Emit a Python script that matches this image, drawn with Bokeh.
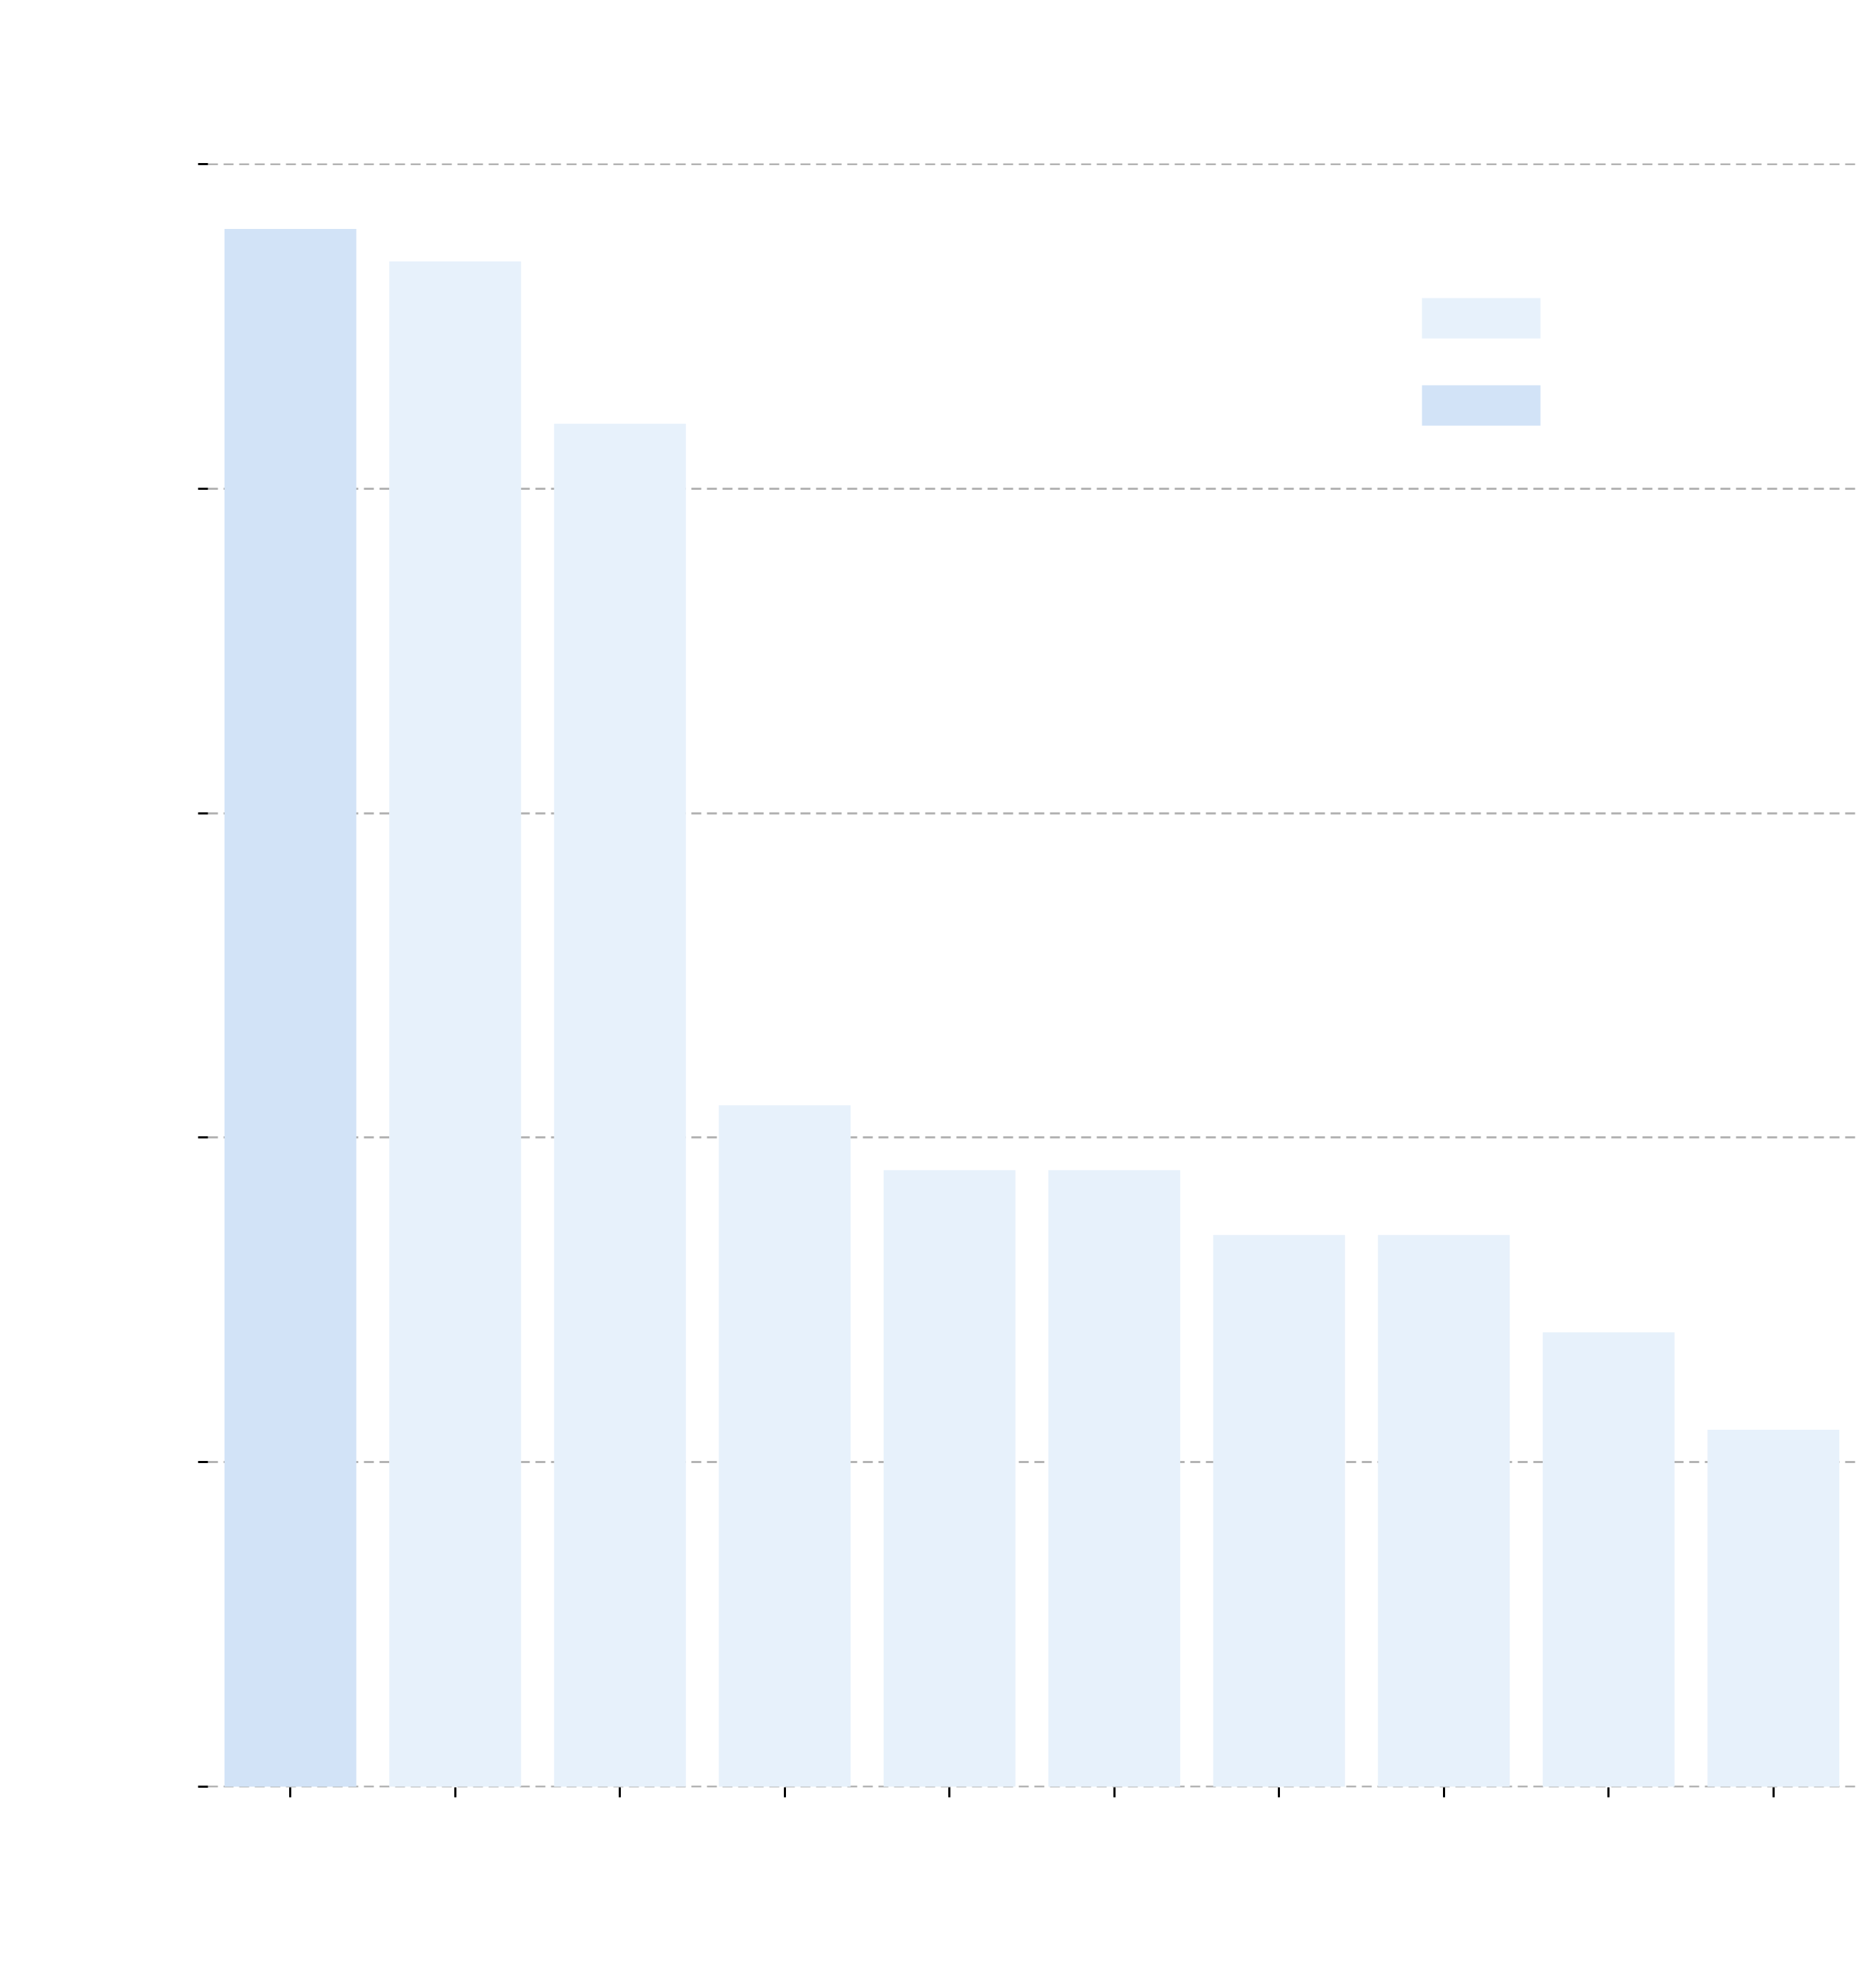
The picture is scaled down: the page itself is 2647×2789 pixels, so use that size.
from bokeh.plotting import figure
from bokeh.models import ColumnDataSource, Legend, LegendItem
from bokeh.embed import file_html
from bokeh.resources import INLINE

# ---- data ----
ranks = ["1", "2", "3", "4", "5", "6", "7", "8", "9", "10"]
tries = [48, 47, 42, 21, 19, 19, 17, 17, 14, 11]
share = ["0.048", "0.0", "0.0", "0.0", "0.0", "0.0", "0.0", "0.0", "0.0", "0.0"]
legend_values = ["0.0", "0.048"]
legend_colors = ["#e7f1fb", "#d2e3f7"]
y_ticks = [0, 10, 20, 30, 40, 50]

title_text = "10 Most Celebrated Tries"
x_label = "Rates"
y_label = "Tries"
legend_title = "Percentage"

FONT = "Liberation Sans"
TXT = "#ffffff"

p = figure(x_range=ranks, y_range=(-0.02, 50.02), width=2630, height=2770,
           output_backend="svg", toolbar_location=None,
           title=title_text, min_border_left=293, min_border_right=12,
           min_border_bottom=249, min_border_top=230)

items = []
for val, col in zip(legend_values, legend_colors):
    xs = [r for r, s in zip(ranks, share) if s == val]
    ys = [t for t, s in zip(tries, share) if s == val]
    src = ColumnDataSource(dict(x=xs, top=ys))
    r = p.vbar(x="x", top="top", width=0.8, bottom=0, source=src,
               fill_color=col, line_color=None)
    items.append(LegendItem(label=val, renderers=[r]))

legend = Legend(items=items, title=legend_title, location="top_right")
legend.title_text_font = FONT
legend.title_text_font_size = "88px"
legend.title_text_color = TXT
legend.title_text_font_style = "normal"
legend.label_text_font = FONT
legend.label_text_font_size = "88px"
legend.label_text_color = TXT
legend.glyph_width = 209
legend.glyph_height = 71
legend.label_standoff = 50
legend.label_width = 314
legend.spacing = 21
legend.padding = 10
legend.margin = 60
legend.background_fill_alpha = 0
legend.border_line_color = None
p.add_layout(legend)

p.title.text_font = FONT
p.title.text_font_size = "116px"
p.title.text_color = TXT
p.title.text_font_style = "normal"
p.title.align = "center"
p.title.standoff = 60

for ax in (p.xaxis[0], p.yaxis[0]):
    ax.axis_line_color = None
    ax.major_tick_line_color = "#000000"
    ax.major_tick_line_width = 3
    ax.major_tick_out = 14
    ax.major_tick_in = 0
    ax.minor_tick_line_color = None
    ax.major_label_text_font = FONT
    ax.major_label_text_font_size = "85px"
    ax.major_label_text_color = TXT
    ax.axis_label_text_font = FONT
    ax.axis_label_text_font_size = "88px"
    ax.axis_label_text_color = TXT
    ax.axis_label_text_font_style = "normal"

p.xaxis.axis_label = x_label
p.yaxis.axis_label = y_label
p.yaxis.ticker = y_ticks
p.yaxis.major_label_standoff = 20
p.xaxis.major_label_standoff = 12
p.xaxis.axis_label_standoff = 30
p.yaxis.axis_label_standoff = 40

p.xgrid.grid_line_color = None
p.ygrid.grid_line_color = "#b3b3b3"
p.ygrid.grid_line_width = 3
p.ygrid.grid_line_dash = "14 8"
p.ygrid.ticker = y_ticks
p.x_range.range_padding = 0
p.outline_line_color = None
p.background_fill_color = "#ffffff"
p.border_fill_color = "#ffffff"

open("out.html", "w").write(file_html(p, INLINE))
